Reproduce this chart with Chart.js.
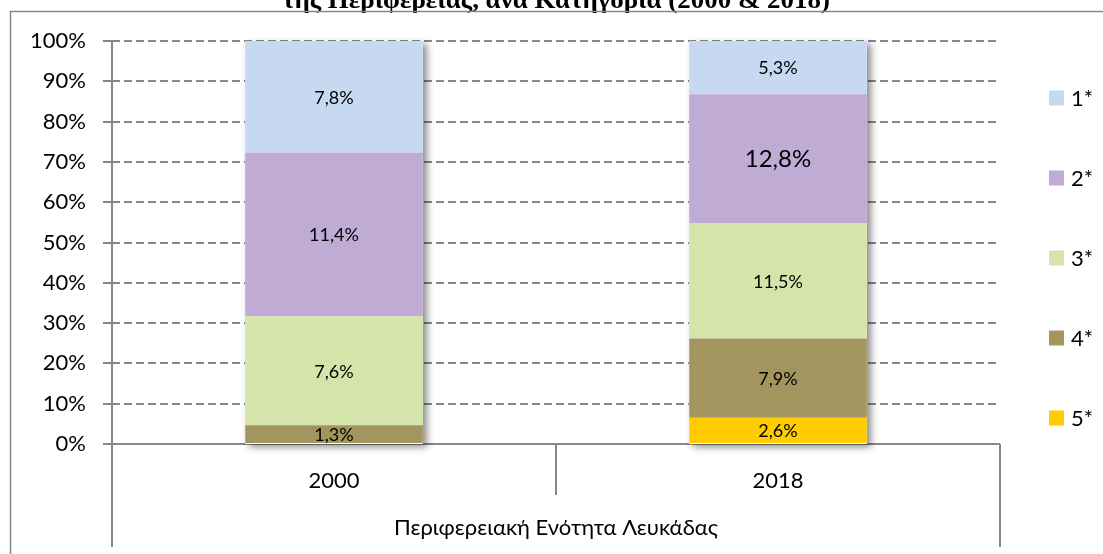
<!DOCTYPE html>
<html lang="el">

<head>
    <meta charset="UTF-8">
    <meta name="viewport" content="width=device-width, initial-scale=1.0">
    <title>Λευκάδα 2000 & 2018</title>
    <script src="https://cdn.jsdelivr.net/npm/chart.js"></script>

    <style>
        body {
            margin: 0;
            background: #fff;
        }

        #grafico {
            display: block;
        }
    </style>
</head>

<body>
    <canvas id="grafico" width="1103" height="554"></canvas>

    <script>
        // values (share of the region, %)
        const years = ['2000', '2018'];
        const classes = ['1*', '2*', '3*', '4*', '5*'];
        const share1 = [7.8, 5.3];
        const share2 = [11.4, 12.8];
        const share3 = [7.6, 11.5];
        const share4 = [1.3, 7.9];
        const share5 = [0, 2.6];
        const yTicks = [0, 10, 20, 30, 40, 50, 60, 70, 80, 90, 100];
        const groupLabel = 'Περιφερειακή Ενότητα Λευκάδας';
        const titleText = 'της Περιφέρειας, ανά Κατηγορία (2000 & 2018)';

        // 100% stacked: every column is scaled to its own total
        const totals = years.map((y, i) => share1[i] + share2[i] + share3[i] + share4[i] + share5[i]);
        const toPct = arr => arr.map((v, i) => v / totals[i] * 100);

        const FONT = 'Lato';
        const GREY = '#878787';

        // bottom of the stack first
        const datasets = [
            { label: classes[4], shares: share5, data: toPct(share5), backgroundColor: '#FFCC00' },
            { label: classes[3], shares: share4, data: toPct(share4), backgroundColor: '#A2965E' },
            { label: classes[2], shares: share3, data: toPct(share3), backgroundColor: '#D4E4AA' },
            { label: classes[1], shares: share2, data: toPct(share2), backgroundColor: '#BFABD4', labelSizes: [18, 24] },
            { label: classes[0], shares: share1, data: toPct(share1), backgroundColor: '#C6D9F1' }
        ];

        // frame + cut title
        const frame = {
            id: 'frame',
            beforeDraw(chart) {
                const ctx = chart.ctx;
                ctx.save();
                ctx.fillStyle = '#fff';
                ctx.fillRect(0, 0, chart.width, chart.height);
                ctx.font = 'bold 25px "Liberation Serif"';
                ctx.fillStyle = '#000';
                ctx.textBaseline = 'alphabetic';
                const w = ctx.measureText(titleText).width;
                const sx = 548 / w;
                ctx.translate(556, 7.5);
                ctx.scale(sx, 1);
                ctx.textAlign = 'center';
                ctx.fillText(titleText, 0, 0);
                ctx.restore();

                ctx.save();
                ctx.strokeStyle = GREY;
                ctx.lineWidth = 1.5;
                ctx.strokeRect(10.5, 11.5, chart.width + 40, chart.height + 40);
                ctx.restore();
            }
        };

        // axis box under the plot + bar shadows
        const axisBox = {
            id: 'axisBox',
            beforeDatasetsDraw(chart) {
                const ctx = chart.ctx;
                const a = chart.chartArea;
                const xs = chart.scales.x;
                const base = chart.scales.y.getPixelForValue(0);
                const mid = (xs.getPixelForValue(0) + xs.getPixelForValue(1)) / 2;

                ctx.save();
                ctx.strokeStyle = GREY;
                ctx.lineWidth = 2;
                ctx.beginPath();
                ctx.moveTo(a.left - 9, base); ctx.lineTo(a.right, base);
                ctx.moveTo(a.left, a.top); ctx.lineTo(a.left, 547);
                ctx.moveTo(mid, base); ctx.lineTo(mid, 495);
                ctx.moveTo(a.right, base); ctx.lineTo(a.right, 547);
                ctx.stroke();

                ctx.fillStyle = '#000';
                ctx.font = '22px ' + FONT;
                ctx.textAlign = 'center';
                ctx.textBaseline = 'middle';
                ctx.fillText(groupLabel, (a.left + a.right) / 2, 528);
                ctx.restore();

                // drop shadow behind each whole column
                chart.data.labels.forEach((_, i) => {
                    let top = base, x0 = 0, w = 0;
                    chart.data.datasets.forEach((ds, d) => {
                        const el = chart.getDatasetMeta(d).data[i];
                        if (!el) return;
                        top = Math.min(top, el.y);
                        x0 = el.x - el.width / 2;
                        w = el.width;
                    });
                    ctx.save();
                    ctx.shadowColor = 'rgba(0,0,0,0.45)';
                    ctx.shadowBlur = 7;
                    ctx.shadowOffsetX = 4;
                    ctx.shadowOffsetY = 3;
                    ctx.fillStyle = '#fff';
                    ctx.fillRect(x0, top, w, base - top);
                    ctx.restore();
                });
            },
            afterDatasetsDraw(chart) {
                const ctx = chart.ctx;
                ctx.save();
                ctx.fillStyle = '#000';
                ctx.textAlign = 'center';
                ctx.textBaseline = 'middle';
                chart.data.datasets.forEach((ds, d) => {
                    chart.getDatasetMeta(d).data.forEach((el, i) => {
                        const v = ds.shares[i];
                        if (!v) return;
                        const size = ds.labelSizes ? ds.labelSizes[i] : 18;
                        ctx.font = size + 'px ' + FONT;
                        const p = el.getProps(['x', 'y', 'base'], true);
                        ctx.fillText(v.toFixed(1).replace('.', ',') + '%', p.x, (p.y + p.base) / 2 + 1);
                    });
                });

                // legend on the right, 1* at the top
                const a = chart.chartArea;
                ctx.font = '22px ' + FONT;
                ctx.textAlign = 'left';
                const items = chart.data.datasets.slice().reverse();
                items.forEach((ds, k) => {
                    const cy = 98 + k * 80;
                    ctx.fillStyle = ds.backgroundColor;
                    ctx.fillRect(a.right + 49, cy - 7.5, 15, 15);
                    ctx.fillStyle = '#000';
                    ctx.fillText(ds.label, a.right + 71, cy + 1);
                });
                ctx.restore();
            }
        };

        const grafico = new Chart(document.getElementById('grafico'), {
            type: 'bar',
            data: {
                labels: years,
                datasets: datasets
            },
            plugins: [frame, axisBox],
            options: {
                responsive: false,
                animation: false,
                layout: {
                    padding: { top: 41, right: 103, left: 0, bottom: 0 }
                },
                datasets: {
                    bar: { barPercentage: 0.4, categoryPercentage: 1, borderWidth: 0 }
                },
                plugins: {
                    legend: { display: false },
                    title: { display: false },
                    tooltip: { enabled: false }
                },
                scales: {
                    x: {
                        stacked: true,
                        grid: { display: false, drawTicks: false },
                        border: { display: false },
                        ticks: { color: '#000', font: { family: FONT, size: 22 }, padding: 24 },
                        afterFit: s => { s.height = 110; }
                    },
                    y: {
                        stacked: true,
                        min: 0,
                        max: 100,
                        afterBuildTicks: s => { s.ticks = yTicks.map(v => ({ value: v })); },
                        grid: { color: GREY, lineWidth: 2, tickLength: 9, tickColor: GREY },
                        border: { display: false, dash: [8, 4] },
                        ticks: {
                            color: '#000',
                            font: { family: FONT, size: 22 },
                            padding: 17,
                            callback: v => v + '%'
                        },
                        afterFit: s => { s.width = 112; }
                    }
                }
            }
        });
    </script>
</body>

</html>
